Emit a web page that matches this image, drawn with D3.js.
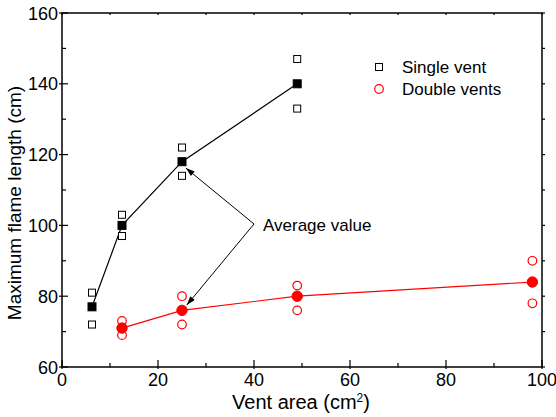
<!DOCTYPE html>
<html><head><meta charset="utf-8">
<script src="https://cdn.jsdelivr.net/npm/d3@7"></script>
<style>body{margin:0;background:#fff}svg{display:block}text{font-family:"Liberation Sans",Arial,sans-serif}</style>
</head><body><svg id="c" width="556" height="417"></svg>
<script>
// Data
const singleX = [6.25, 12.5, 25, 49];
const singleAvg = [77, 100, 118, 140];
const singleHigh = [81, 103, 122, 147];
const singleLow = [72, 97, 114, 133];
const doubleX = [12.5, 25, 49, 98];
const doubleAvg = [71, 76, 80, 84];
const doubleHigh = [73, 80, 83, 90];
const doubleLow = [69, 72, 76, 78];
const xTicks = [0, 20, 40, 60, 80, 100];
const yTicks = [60, 80, 100, 120, 140, 160];
const legendLabels = ["Single vent", "Double vents"];
const annotationText = "Average value";
const annotationVertex = [40, 100.4];
const annotationTips = [[25.8, 116.2], [26, 77.5]];

const svg = d3.select("#c");
const L = 62, R = 542, T = 13, B = 367;
const x = d3.scaleLinear().domain([0, 100]).range([L, R]);
const y = d3.scaleLinear().domain([60, 160]).range([B, T]);

svg.append("defs").append("marker").attr("id","ah").attr("viewBox","0 0 12 8")
  .attr("refX",12).attr("refY",4).attr("markerWidth",12).attr("markerHeight",6)
  .attr("markerUnits","userSpaceOnUse").attr("orient","auto")
  .append("path").attr("d","M0,0L12,4L0,8z").attr("fill","#000");

// frame
svg.append("rect").attr("x",L).attr("y",T).attr("width",R-L).attr("height",B-T)
  .attr("fill","none").attr("stroke","#000").attr("stroke-width",1.5);

const minorX = d3.range(10, 100, 20), minorY = d3.range(70, 160, 20);
const g = svg.append("g").attr("stroke","#000").attr("stroke-width",1.2);
xTicks.forEach(v => { g.append("line").attr("x1",x(v)).attr("x2",x(v)).attr("y1",B+2).attr("y2",B-7);
  g.append("line").attr("x1",x(v)).attr("x2",x(v)).attr("y1",T).attr("y2",T+2); });
minorX.forEach(v => { g.append("line").attr("x1",x(v)).attr("x2",x(v)).attr("y1",B).attr("y2",B-4);
  g.append("line").attr("x1",x(v)).attr("x2",x(v)).attr("y1",T).attr("y2",T+2); });
yTicks.forEach(v => { g.append("line").attr("y1",y(v)).attr("y2",y(v)).attr("x1",L-3).attr("x2",L+6);
  g.append("line").attr("y1",y(v)).attr("y2",y(v)).attr("x1",R).attr("x2",R+3); });
minorY.forEach(v => { g.append("line").attr("y1",y(v)).attr("y2",y(v)).attr("x1",L).attr("x2",L+4);
  g.append("line").attr("y1",y(v)).attr("y2",y(v)).attr("x1",R).attr("x2",R+3); });

svg.selectAll(".xt").data(xTicks).join("text").attr("x",d=>x(d)).attr("y",B+19)
  .attr("text-anchor","middle").attr("font-size",18).text(d=>d);
svg.selectAll(".yt").data(yTicks).join("text").attr("x",L-4).attr("y",d=>y(d)+6.5)
  .attr("text-anchor","end").attr("font-size",18).text(d=>d);

const xl = svg.append("text").attr("x",301).attr("y",409).attr("text-anchor","middle").attr("font-size",20);
xl.append("tspan").text("Vent area (cm");
xl.append("tspan").attr("font-size",12).attr("dy",-7).text("2");
xl.append("tspan").attr("dy",7).text(")");
svg.append("text").attr("transform",`translate(21,203) rotate(-90)`).attr("text-anchor","middle")
  .attr("font-size",19).text("Maximum flame length (cm)");

const line = d3.line().x(d=>x(d[0])).y(d=>y(d[1]));
svg.append("path").attr("d", line(singleX.map((v,i)=>[v,singleAvg[i]]))).attr("fill","none").attr("stroke","#000").attr("stroke-width",1.2);
svg.append("path").attr("d", line(doubleX.map((v,i)=>[v,doubleAvg[i]]))).attr("fill","none").attr("stroke","#f00").attr("stroke-width",1.2);

function sq(cx, cy, s, fill){ svg.append("rect").attr("x",cx-s/2).attr("y",cy-s/2).attr("width",s).attr("height",s)
  .attr("fill",fill?"#000":"#fff").attr("stroke","#000").attr("stroke-width",1); }
singleX.forEach((v,i)=>{ sq(x(v),y(singleHigh[i]),7,false); sq(x(v),y(singleLow[i]),7,false); sq(x(v),y(singleAvg[i]),8,true); });
doubleX.forEach((v,i)=>{
  [doubleHigh[i],doubleLow[i]].forEach(w=>svg.append("circle").attr("cx",x(v)).attr("cy",y(w)).attr("r",4.3)
    .attr("fill","#fff").attr("stroke","#f00").attr("stroke-width",1.2));
  svg.append("circle").attr("cx",x(v)).attr("cy",y(doubleAvg[i])).attr("r",5.2).attr("fill","#f00").attr("stroke","#f00");
});

// annotation
annotationTips.forEach(t => svg.append("line").attr("x1",x(annotationVertex[0])).attr("y1",y(annotationVertex[1]))
  .attr("x2",x(t[0])).attr("y2",y(t[1])).attr("stroke","#000").attr("stroke-width",1).attr("marker-end","url(#ah)"));
svg.append("text").attr("x",x(annotationVertex[0])+9).attr("y",y(annotationVertex[1])+7).attr("font-size",17).text(annotationText);

// legend
sq(379, 67, 7, false);
svg.append("circle").attr("cx",379).attr("cy",89).attr("r",4.3).attr("fill","#fff").attr("stroke","#f00").attr("stroke-width",1.2);
svg.selectAll(".lg").data(legendLabels).join("text").attr("x",402).attr("y",(d,i)=>73+i*22).attr("font-size",17).text(d=>d);
</script></body></html>
